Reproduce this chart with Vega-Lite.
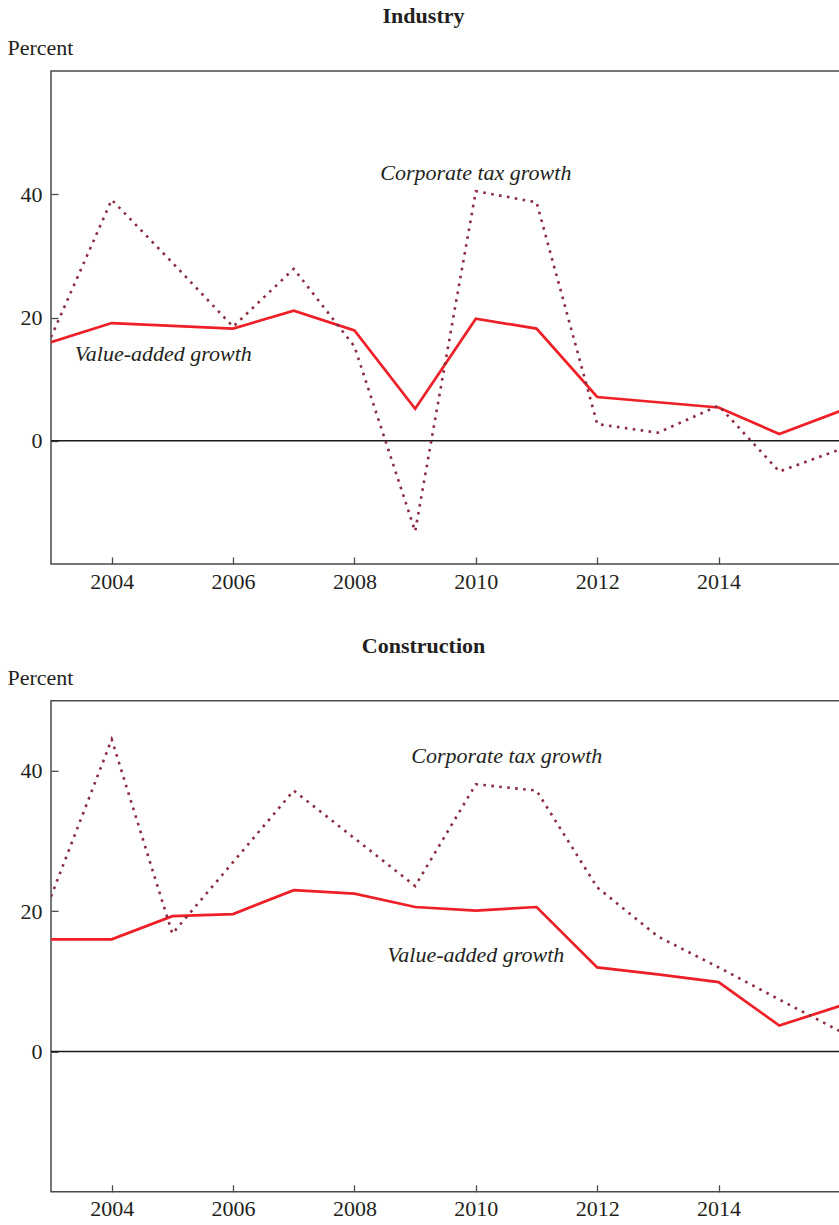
{
  "$schema": "https://vega.github.io/schema/vega-lite/v6.json",
  "padding": {"left": 6, "top": 4, "right": 0, "bottom": 0},
  "background": "white",
  "bounds": "flush",
  "spacing": 136.8,
  "config": {
    "font": "Liberation Serif",
    "view": {"stroke": "#4a4a4a", "strokeWidth": 1.5},
    "axis": {
      "domain": false, "grid": false,
      "labelFont": "Liberation Serif", "labelFontSize": 22, "labelColor": "#231f20",
      "tickColor": "#4a4a4a", "tickSize": -7, "tickWidth": 1.3,
      "titleFont": "Liberation Serif", "titleFontSize": 22, "titleFontWeight": "normal", "titleColor": "#231f20"
    },
    "title": {"font": "Liberation Serif", "fontSize": 22, "fontWeight": "bold", "color": "#231f20", "anchor": "middle", "baseline": "alphabetic", "offset": 8.5, "dx": -22}
  },
  "datasets": {
    "industry": [
      {"year": 2003, "series": "Value-added growth", "value": 16.0},
      {"year": 2004, "series": "Value-added growth", "value": 19.1},
      {"year": 2005, "series": "Value-added growth", "value": 18.65},
      {"year": 2006, "series": "Value-added growth", "value": 18.2},
      {"year": 2007, "series": "Value-added growth", "value": 21.1},
      {"year": 2008, "series": "Value-added growth", "value": 17.9},
      {"year": 2009, "series": "Value-added growth", "value": 5.2},
      {"year": 2010, "series": "Value-added growth", "value": 19.8},
      {"year": 2011, "series": "Value-added growth", "value": 18.2},
      {"year": 2012, "series": "Value-added growth", "value": 7.1},
      {"year": 2013, "series": "Value-added growth", "value": 6.25},
      {"year": 2014, "series": "Value-added growth", "value": 5.4},
      {"year": 2015, "series": "Value-added growth", "value": 1.1},
      {"year": 2016, "series": "Value-added growth", "value": 4.8},
      {"year": 2003, "series": "Corporate tax growth", "value": 16.8},
      {"year": 2004, "series": "Corporate tax growth", "value": 39.1},
      {"year": 2005, "series": "Corporate tax growth", "value": 28.9},
      {"year": 2006, "series": "Corporate tax growth", "value": 18.5},
      {"year": 2007, "series": "Corporate tax growth", "value": 27.9},
      {"year": 2008, "series": "Corporate tax growth", "value": 15.3},
      {"year": 2009, "series": "Corporate tax growth", "value": -14.7},
      {"year": 2010, "series": "Corporate tax growth", "value": 40.5},
      {"year": 2011, "series": "Corporate tax growth", "value": 38.7},
      {"year": 2012, "series": "Corporate tax growth", "value": 2.7},
      {"year": 2013, "series": "Corporate tax growth", "value": 1.3},
      {"year": 2014, "series": "Corporate tax growth", "value": 5.7},
      {"year": 2015, "series": "Corporate tax growth", "value": -5.0},
      {"year": 2016, "series": "Corporate tax growth", "value": -1.4}
    ],
    "industryLabels": [
      {"year": 2010.0, "value": 42.3, "label": "Corporate tax growth"},
      {"year": 2004.85, "value": 12.9, "label": "Value-added growth"}
    ],
    "construction": [
      {"year": 2003, "series": "Value-added growth", "value": 16.0},
      {"year": 2004, "series": "Value-added growth", "value": 16.0},
      {"year": 2005, "series": "Value-added growth", "value": 19.3},
      {"year": 2006, "series": "Value-added growth", "value": 19.6},
      {"year": 2007, "series": "Value-added growth", "value": 23.0},
      {"year": 2008, "series": "Value-added growth", "value": 22.5},
      {"year": 2009, "series": "Value-added growth", "value": 20.6},
      {"year": 2010, "series": "Value-added growth", "value": 20.1},
      {"year": 2011, "series": "Value-added growth", "value": 20.6},
      {"year": 2012, "series": "Value-added growth", "value": 12.0},
      {"year": 2013, "series": "Value-added growth", "value": 11.0},
      {"year": 2014, "series": "Value-added growth", "value": 9.9},
      {"year": 2015, "series": "Value-added growth", "value": 3.7},
      {"year": 2016, "series": "Value-added growth", "value": 6.5},
      {"year": 2003, "series": "Corporate tax growth", "value": 22.1},
      {"year": 2004, "series": "Corporate tax growth", "value": 44.5},
      {"year": 2005, "series": "Corporate tax growth", "value": 16.8},
      {"year": 2006, "series": "Corporate tax growth", "value": 27.0},
      {"year": 2007, "series": "Corporate tax growth", "value": 37.2},
      {"year": 2008, "series": "Corporate tax growth", "value": 30.4},
      {"year": 2009, "series": "Corporate tax growth", "value": 23.6},
      {"year": 2010, "series": "Corporate tax growth", "value": 38.1},
      {"year": 2011, "series": "Corporate tax growth", "value": 37.2},
      {"year": 2012, "series": "Corporate tax growth", "value": 23.4},
      {"year": 2013, "series": "Corporate tax growth", "value": 16.4},
      {"year": 2014, "series": "Corporate tax growth", "value": 12.0},
      {"year": 2015, "series": "Corporate tax growth", "value": 7.4},
      {"year": 2016, "series": "Corporate tax growth", "value": 2.9}
    ],
    "constructionLabels": [
      {"year": 2010.51, "value": 41.1, "label": "Corporate tax growth"},
      {"year": 2010.0, "value": 12.7, "label": "Value-added growth"}
    ],
    "zero": [{"value": 0}]
  },
  "vconcat": [
    {
      "title": {"text": "Industry"},
      "width": 789,
      "height": 493,
      "layer": [
        {
          "data": {"name": "zero"},
          "mark": {"type": "rule", "color": "#1a1a1a", "strokeWidth": 1.3},
          "encoding": {"y": {"field": "value", "type": "quantitative"}}
        },
        {
          "data": {"name": "industry"},
          "transform": [{"filter": "datum.series === 'Value-added growth'"}],
          "mark": {"type": "line", "color": "#ee1f26", "strokeWidth": 2.7, "clip": true},
          "encoding": {
            "x": {"field": "year", "type": "quantitative", "scale": {"domain": [2003, 2016], "nice": false, "zero": false},
                  "axis": {"values": [2004, 2006, 2008, 2010, 2012, 2014], "format": "d", "title": null, "labelPadding": 14}},
            "y": {"field": "value", "type": "quantitative", "scale": {"domain": [-20, 60], "nice": false, "zero": false},
                  "axis": {"values": [0, 20, 40], "title": "Percent", "titleAngle": 0, "titleAlign": "left", "titleBaseline": "alphabetic", "titleX": -44, "titleY": -16.5, "labelPadding": 16}}
          }
        },
        {
          "data": {"name": "industry"},
          "transform": [{"filter": "datum.series === 'Corporate tax growth'"}],
          "mark": {"type": "line", "color": "#8b2c3f", "strokeWidth": 2.6, "strokeDash": [2.6, 5.4], "clip": true},
          "encoding": {
            "x": {"field": "year", "type": "quantitative"},
            "y": {"field": "value", "type": "quantitative"}
          }
        },
        {
          "data": {"name": "industryLabels"},
          "mark": {"type": "text", "font": "Liberation Serif", "fontSize": 22, "fontStyle": "italic", "color": "#231f20", "align": "center", "baseline": "alphabetic"},
          "encoding": {
            "x": {"field": "year", "type": "quantitative"},
            "y": {"field": "value", "type": "quantitative"},
            "text": {"field": "label"}
          }
        }
      ]
    },
    {
      "title": {"text": "Construction"},
      "width": 789,
      "height": 491,
      "layer": [
        {
          "data": {"name": "zero"},
          "mark": {"type": "rule", "color": "#1a1a1a", "strokeWidth": 1.3},
          "encoding": {"y": {"field": "value", "type": "quantitative"}}
        },
        {
          "data": {"name": "construction"},
          "transform": [{"filter": "datum.series === 'Value-added growth'"}],
          "mark": {"type": "line", "color": "#ee1f26", "strokeWidth": 2.7, "clip": true},
          "encoding": {
            "x": {"field": "year", "type": "quantitative", "scale": {"domain": [2003, 2016], "nice": false, "zero": false},
                  "axis": {"values": [2004, 2006, 2008, 2010, 2012, 2014], "format": "d", "title": null, "labelPadding": 14}},
            "y": {"field": "value", "type": "quantitative", "scale": {"domain": [-20, 50], "nice": false, "zero": false},
                  "axis": {"values": [0, 20, 40], "title": "Percent", "titleAngle": 0, "titleAlign": "left", "titleBaseline": "alphabetic", "titleX": -44, "titleY": -16.5, "labelPadding": 16}}
          }
        },
        {
          "data": {"name": "construction"},
          "transform": [{"filter": "datum.series === 'Corporate tax growth'"}],
          "mark": {"type": "line", "color": "#8b2c3f", "strokeWidth": 2.6, "strokeDash": [2.6, 5.4], "clip": true},
          "encoding": {
            "x": {"field": "year", "type": "quantitative"},
            "y": {"field": "value", "type": "quantitative"}
          }
        },
        {
          "data": {"name": "constructionLabels"},
          "mark": {"type": "text", "font": "Liberation Serif", "fontSize": 22, "fontStyle": "italic", "color": "#231f20", "align": "center", "baseline": "alphabetic"},
          "encoding": {
            "x": {"field": "year", "type": "quantitative"},
            "y": {"field": "value", "type": "quantitative"},
            "text": {"field": "label"}
          }
        }
      ]
    }
  ]
}
